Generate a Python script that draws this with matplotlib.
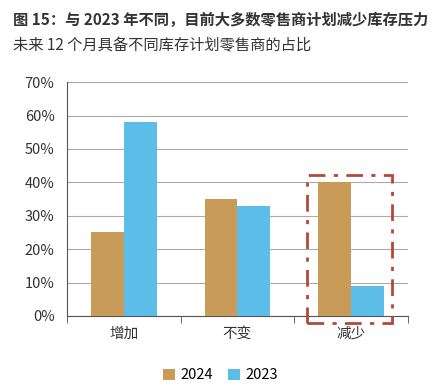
import matplotlib.pyplot as plt
from matplotlib.patches import Rectangle
import numpy as np

plt.rcParams['font.family'] = ['Noto Sans CJK SC', 'DejaVu Sans']

categories = ['增加', '不变', '减少']
vals_2024 = [25, 35, 40]
vals_2023 = [58, 33, 9]
series_names = ['2024', '2023']
yticks = [0, 10, 20, 30, 40, 50, 60, 70]

c2024 = '#C99B58'
c2023 = '#5BBDE8'
txt = '#333333'

fig = plt.figure(figsize=(4.41, 3.91), dpi=100)
ax = fig.add_axes([0.152, 0.192, 0.773, 0.598])

x = np.arange(len(categories))
w = 0.29
ax.bar(x - w / 2, vals_2024, w, color=c2024, label=series_names[0], zorder=3)
ax.bar(x + w / 2, vals_2023, w, color=c2023, label=series_names[1], zorder=3)

ax.set_xlim(-0.5, 2.5)
ax.set_ylim(0, 70)
ax.set_yticks(yticks)
ax.set_yticklabels([f'{v}%' for v in yticks], fontsize=10.5, color=txt)
ax.yaxis.grid(True, color='#aaaaaa', linewidth=0.8, zorder=0)
ax.tick_params(axis='y', length=0, pad=9)

ax.set_xticks(x)
ax.set_xticklabels(categories, fontsize=10.5, color=txt)
ax.tick_params(axis='x', length=0, pad=8)
ax.set_xticks([-0.5, 0.5, 1.5, 2.5], minor=True)
ax.tick_params(axis='x', which='minor', length=5, color='#555555')

for s in ['top', 'right']:
    ax.spines[s].set_visible(False)
ax.spines['left'].set_color('#555555')
ax.spines['bottom'].set_color('#555555')

# red highlight box around "减少"
box = Rectangle((1.61, -2.1), 0.75, 44.3, fill=False, edgecolor='#B5473A',
                linestyle=(0, (6, 3, 1.5, 3)), linewidth=2, clip_on=False, zorder=4)
ax.add_patch(box)

fig.text(0.03, 0.948, '图 15：与 2023 年不同，目前大多数零售商计划减少库存压力',
         fontsize=11, fontweight='bold', color=txt, va='center')
fig.text(0.03, 0.882, '未来 12 个月具备不同库存计划零售商的占比',
         fontsize=11, color=txt, va='center')

fig.legend(loc='center', bbox_to_anchor=(0.5, 0.04), ncol=2, frameon=False,
           fontsize=10.5, handlelength=0.8, handleheight=0.8, columnspacing=1.0,
           handletextpad=0.4)

fig.savefig('out.png', dpi=100, facecolor='white')
